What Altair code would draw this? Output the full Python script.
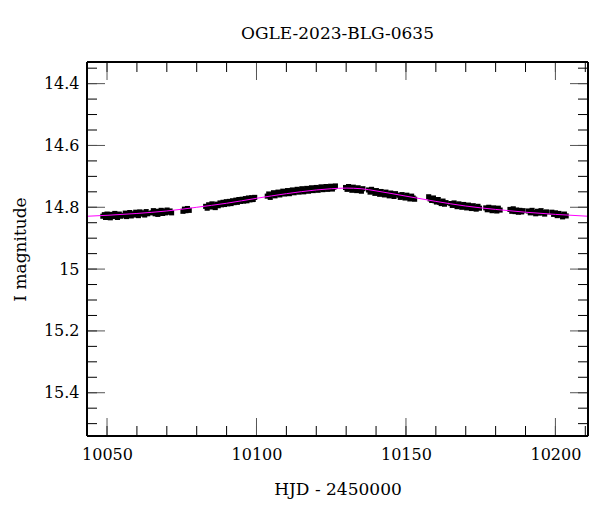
import altair as alt
import pandas as pd

t1 = [10048.6, 10049.1, 10049.5, 10050.0, 10050.6, 10051.1, 10051.5, 10052.0, 10052.6, 10053.1,
      10053.5, 10054.1, 10054.6, 10055.6, 10056.1, 10056.5, 10057.0, 10057.6, 10058.1, 10058.5,
      10059.0, 10059.6, 10060.1, 10060.5, 10061.0, 10061.6, 10062.1, 10062.6, 10063.1, 10063.6,
      10065.0, 10065.5, 10066.1, 10066.6, 10067.0, 10067.5, 10068.1, 10068.6, 10069.1, 10069.6,
      10070.1, 10070.6, 10071.1, 10071.6]
m1 = [14.829, 14.824, 14.833, 14.822, 14.828, 14.834, 14.823, 14.830, 14.820, 14.827,
      14.833, 14.822, 14.829, 14.826, 14.819, 14.830, 14.823, 14.817, 14.828, 14.821,
      14.825, 14.816, 14.823, 14.827, 14.815, 14.822, 14.818, 14.825, 14.814, 14.821,
      14.818, 14.811, 14.821, 14.813, 14.823, 14.816, 14.810, 14.820, 14.812, 14.818,
      14.809, 14.816, 14.812, 14.818]
t2 = [10075.4, 10075.9, 10076.4, 10076.9, 10077.5]
m2 = [14.813, 14.806, 14.811, 14.804, 14.810]
t3 = [10083.0, 10083.5, 10084.0, 10084.6, 10085.1, 10085.6, 10086.2, 10086.7, 10087.2, 10087.8,
      10088.3, 10088.8, 10089.3, 10089.9, 10090.4, 10090.9, 10091.5, 10092.0, 10092.5, 10093.1,
      10093.6, 10094.1, 10094.7, 10095.2, 10095.7, 10096.3, 10096.8, 10097.3, 10097.8, 10098.4,
      10098.9, 10099.4]
m3 = [14.797, 14.803, 14.792, 14.799, 14.789, 14.795, 14.801, 14.790, 14.795, 14.786,
      14.792, 14.784, 14.791, 14.782, 14.789, 14.781, 14.788, 14.779, 14.785, 14.777,
      14.784, 14.775, 14.781, 14.774, 14.780, 14.772, 14.779, 14.770, 14.776, 14.769,
      14.775, 14.768]
t4 = [10103.6, 10104.1, 10104.6, 10105.1, 10105.7, 10106.2, 10106.7, 10107.2, 10107.8, 10108.3,
      10108.8, 10109.4, 10109.9, 10110.4, 10111.0, 10111.5, 10112.0, 10112.6, 10113.1, 10113.6,
      10114.2, 10114.7, 10115.2, 10115.8, 10116.3, 10116.8, 10117.4, 10117.9, 10118.4, 10119.0,
      10119.5, 10120.0, 10120.6, 10121.1, 10121.6, 10122.2, 10122.7, 10123.2, 10123.8, 10124.3,
      10124.8, 10125.4, 10125.9, 10126.4]
m4 = [14.764, 14.757, 14.768, 14.759, 14.753, 14.763, 14.756, 14.751, 14.760, 14.752,
      14.748, 14.757, 14.750, 14.746, 14.756, 14.749, 14.744, 14.753, 14.747, 14.742,
      14.751, 14.745, 14.740, 14.750, 14.744, 14.739, 14.748, 14.742, 14.737, 14.746,
      14.740, 14.736, 14.745, 14.739, 14.734, 14.743, 14.737, 14.733, 14.742, 14.736,
      14.732, 14.741, 14.735, 14.731]
t5 = [10129.8, 10130.3, 10130.8, 10131.4, 10131.9, 10132.4, 10133.0, 10133.5, 10134.0, 10134.6,
      10135.1, 10135.6]
m5 = [14.736, 14.742, 14.733, 14.739, 14.745, 14.735, 14.741, 14.746, 14.737, 14.743,
      14.748, 14.740]
t6 = [10137.5, 10138.0, 10138.5, 10139.1, 10139.6, 10140.1, 10140.7, 10141.2, 10141.7, 10142.3,
      10142.8, 10143.3, 10143.9, 10144.4, 10144.9, 10145.5, 10146.0, 10146.5, 10147.6, 10148.1,
      10148.7, 10149.2, 10149.7, 10150.3, 10150.8, 10151.3, 10151.9, 10152.4, 10152.9]
m6 = [14.744, 14.751, 14.742, 14.749, 14.755, 14.746, 14.753, 14.758, 14.749, 14.755,
      14.760, 14.751, 14.758, 14.763, 14.754, 14.760, 14.765, 14.756, 14.761, 14.768,
      14.759, 14.765, 14.770, 14.761, 14.768, 14.773, 14.764, 14.770, 14.774]
t7 = [10157.6, 10158.1, 10158.6, 10159.2, 10159.7, 10160.2, 10160.8, 10161.3, 10161.8, 10162.4,
      10162.9, 10163.4]
m7 = [14.766, 14.773, 14.778, 14.770, 14.779, 14.783, 14.775, 14.784, 14.788, 14.780,
      14.790, 14.785]
t8 = [10165.0, 10165.5, 10166.1, 10166.6, 10167.1, 10167.7, 10168.2, 10168.7, 10169.3, 10169.8,
      10170.3, 10170.9, 10171.4, 10171.9, 10172.5, 10173.0, 10173.5, 10174.1, 10174.6, 10176.7,
      10177.2, 10177.7, 10178.3, 10178.8, 10179.3, 10179.9, 10180.4, 10180.9, 10181.5]
m8 = [14.788, 14.794, 14.786, 14.793, 14.798, 14.789, 14.795, 14.800, 14.791, 14.797,
      14.802, 14.793, 14.799, 14.804, 14.795, 14.801, 14.806, 14.797, 14.803, 14.802,
      14.808, 14.800, 14.806, 14.811, 14.802, 14.808, 14.812, 14.803, 14.809]
t9 = [10184.8, 10185.4, 10185.9, 10186.5, 10187.0, 10187.6, 10188.1, 10188.7, 10189.2]
m9 = [14.807, 14.813, 14.805, 14.814, 14.809, 14.816, 14.810, 14.815, 14.811]
t10 = [10191.0, 10191.6, 10192.2, 10192.8, 10193.4, 10194.0, 10194.6, 10195.2, 10195.8, 10196.4,
       10197.0]
m10 = [14.812, 14.818, 14.810, 14.817, 14.821, 14.813, 14.819, 14.811, 14.817, 14.822, 14.815]
t11 = [10198.8, 10199.4, 10200.0, 10200.6, 10201.2, 10201.8, 10202.4, 10203.0, 10203.6]
m11 = [14.816, 14.823, 14.818, 14.827, 14.820, 14.825, 14.831, 14.822, 14.828]

# ---- model light curve ----
model_t = [10043.3, 10050, 10060, 10070, 10080, 10090, 10100, 10110, 10120, 10125, 10130,
           10135, 10140, 10150, 10160, 10170, 10180, 10190, 10200, 10210.9]
model_m = [14.829, 14.826, 14.820, 14.812, 14.800, 14.787, 14.771, 14.756, 14.744, 14.740,
           14.738, 14.740, 14.747, 14.764, 14.781, 14.796, 14.807, 14.816, 14.823, 14.829]

# ---- axis ticks ----
x_major = [10050, 10100, 10150, 10200]
x_minor = [10050, 10060, 10070, 10080, 10090, 10100, 10110, 10120, 10130, 10140, 10150,
           10160, 10170, 10180, 10190, 10200, 10210]
y_major = [14.4, 14.6, 14.8, 15.0, 15.2, 15.4]
y_minor = [14.35, 14.4, 14.45, 14.5, 14.55, 14.6, 14.65, 14.7, 14.75, 14.8, 14.85, 14.9,
           14.95, 15.0, 15.05, 15.1, 15.15, 15.2, 15.25, 15.3, 15.35, 15.4, 15.45, 15.5]

x_domain = [10043.3, 10210.9]
y_domain = [14.33, 15.54]

W, H = 501, 374
MAJ, MIN = 18, 10
FONT = "DejaVu Serif"

obs = pd.DataFrame({
    "t": t1 + t2 + t3 + t4 + t5 + t6 + t7 + t8 + t9 + t10 + t11,
    "m": m1 + m2 + m3 + m4 + m5 + m6 + m7 + m8 + m9 + m10 + m11,
})
model = pd.DataFrame({"t": model_t, "m": model_m})

xs = alt.Scale(domain=x_domain, nice=False, zero=False)
ys = alt.Scale(domain=y_domain, nice=False, zero=False, reverse=True)

x_axis = alt.Axis(values=x_major, format="d", ticks=False, domain=False, grid=False,
                  title="HJD - 2450000", labelFont=FONT, labelFontSize=16,
                  labelColor="black", labelPadding=10, titleFont=FONT, titleFontSize=17,
                  titleFontWeight="normal", titleColor="black", titlePadding=19,
                  labelFlush=False)
y_axis = alt.Axis(values=y_major, format="~g", ticks=False, domain=False, grid=False,
                  title="I magnitude", labelFont=FONT, labelFontSize=16,
                  labelColor="black", labelPadding=8, titleFont=FONT, titleFontSize=17,
                  titleFontWeight="normal", titleColor="black", titlePadding=14,
                  labelFlush=False)


def X(field="t"):
    return alt.X(f"{field}:Q", scale=xs, axis=x_axis)


def Y(field="m"):
    return alt.Y(f"{field}:Q", scale=ys, axis=y_axis)


points = alt.Chart(obs).mark_square(size=26, color="black", opacity=1, clip=True).encode(
    x=X(), y=Y())

line = alt.Chart(model).mark_line(color="#ff00ff", strokeWidth=1, interpolate="monotone",
                                  clip=True).encode(x=X(), y=Y())

frame = alt.Chart(model).mark_rect(fill=None, filled=False, stroke="black", strokeWidth=1).encode(
    x=alt.value(0), x2=alt.value(W), y=alt.value(0), y2=alt.value(H))


def xticks(vals, length, color):
    d = pd.DataFrame({"t": vals})
    bottom = alt.Chart(d).mark_rule(color=color, strokeWidth=1).encode(
        x=X(), y=alt.value(H), y2=alt.value(H - length))
    top = alt.Chart(d).mark_rule(color=color, strokeWidth=1).encode(
        x=X(), y=alt.value(0), y2=alt.value(length))
    return [bottom, top]


def yticks(vals, length, color):
    d = pd.DataFrame({"m": vals})
    left = alt.Chart(d).mark_rule(color=color, strokeWidth=1).encode(
        y=Y(), x=alt.value(0), x2=alt.value(length))
    right = alt.Chart(d).mark_rule(color=color, strokeWidth=1).encode(
        y=Y(), x=alt.value(W), x2=alt.value(W - length))
    return [left, right]


layers = ([points, line]
          + xticks(x_minor, MIN, "black") + xticks(x_major, MAJ, "#555555")
          + yticks(y_minor, MIN, "black") + yticks(y_major, MAJ, "#555555")
          + [frame])

chart = alt.layer(*layers).properties(
    width=W, height=H,
    title=alt.TitleParams("OGLE-2023-BLG-0635", font=FONT, fontSize=17,
                          fontWeight="normal", color="black", offset=19),
    autosize=alt.AutoSizeParams(type="none"),
    padding={"left": 87, "top": 62, "right": 12, "bottom": 76},
).configure_view(stroke=None).configure(background="white")

chart.save("out.html", embed_options={"renderer": "svg", "actions": False})
